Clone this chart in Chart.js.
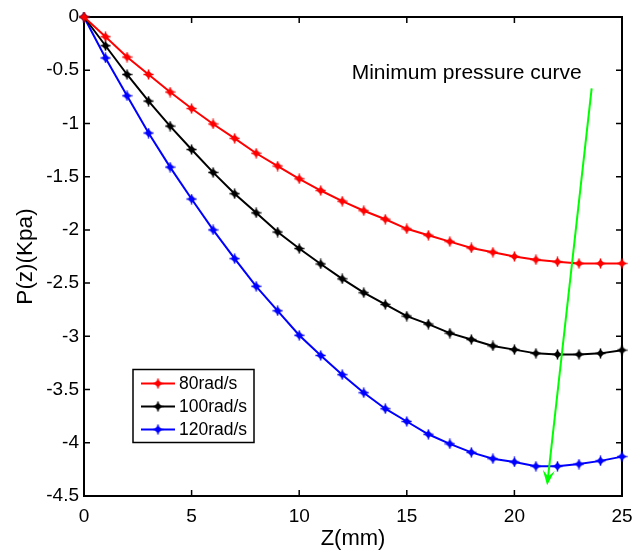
<!DOCTYPE html>
<html>
<head>
<meta charset="utf-8">
<script src="https://cdn.jsdelivr.net/npm/chart.js@4/dist/chart.umd.min.js"></script>
<style>
  html, body { margin: 0; padding: 0; background: #fff; }
  #wrap { width: 642px; height: 552px; }
</style>
</head>
<body>
<div id="wrap"><canvas id="c" width="642" height="552"></canvas></div>
<script>
// ---- data ----
const zValues = [0,1,2,3,4,5,6,7,8,9,10,11,12,13,14,15,16,17,18,19,20,21,22,23,24,25];
const p80  = [0,-0.185,-0.376,-0.54,-0.705,-0.86,-1.005,-1.14,-1.28,-1.40,-1.52,-1.63,-1.73,-1.82,-1.90,-1.99,-2.05,-2.11,-2.17,-2.21,-2.25,-2.28,-2.30,-2.315,-2.315,-2.315];
const p100 = [0,-0.27,-0.54,-0.79,-1.025,-1.245,-1.46,-1.66,-1.84,-2.02,-2.175,-2.32,-2.46,-2.59,-2.70,-2.81,-2.885,-2.97,-3.03,-3.09,-3.125,-3.16,-3.17,-3.17,-3.16,-3.13];
const p120 = [0,-0.385,-0.74,-1.09,-1.41,-1.71,-2.00,-2.27,-2.53,-2.76,-2.99,-3.18,-3.36,-3.53,-3.68,-3.80,-3.92,-4.01,-4.09,-4.15,-4.18,-4.22,-4.22,-4.20,-4.17,-4.13];
const seriesLabels = ['80rad/s','100rad/s','120rad/s'];
const xTicks = [0,5,10,15,20,25];
const yTicks = [0,-0.5,-1,-1.5,-2,-2.5,-3,-3.5,-4,-4.5];
const arrowFrom = [23.59, -0.67];
const arrowTo = [21.52, -4.40];
const noteText = 'Minimum pressure curve';
const noteAt = [12.44, -0.53];

const FONT = "'Liberation Sans', Arial, Helvetica, sans-serif";
const colors = ['#ff0000', '#000000', '#0000ff'];

function makeMarker(color) {
  const c = document.createElement('canvas');
  c.width = 11; c.height = 11;
  const g = c.getContext('2d');
  g.fillStyle = color; g.strokeStyle = color;
  g.beginPath();
  g.moveTo(5.5, 1.5); g.lineTo(9.5, 5.5); g.lineTo(5.5, 9.5); g.lineTo(1.5, 5.5);
  g.closePath(); g.fill();
  g.lineWidth = 1.5;
  g.beginPath();
  g.moveTo(5.5, 0.5); g.lineTo(5.5, 10.5);
  g.moveTo(0.5, 5.5); g.lineTo(10.5, 5.5);
  g.stroke();
  return c;
}
const markers = colors.map(makeMarker);

function toPts(arr) { return zValues.map((z, i) => ({x: z, y: arr[i]})); }
const allSeries = [p80, p100, p120];

const boxPlugin = {
  id: 'box',
  beforeDatasetsDraw(chart) {
    const {ctx, chartArea: a, scales: {x, y}} = chart;
    ctx.save();
    ctx.strokeStyle = '#000';
    ctx.lineWidth = 2;
    ctx.strokeRect(a.left, a.top, a.right - a.left, a.bottom - a.top);
    ctx.lineWidth = 1.5;
    const tl = 6;
    ctx.beginPath();
    xTicks.forEach(v => {
      const px = x.getPixelForValue(v);
      ctx.moveTo(px, a.bottom); ctx.lineTo(px, a.bottom - tl);
      ctx.moveTo(px, a.top); ctx.lineTo(px, a.top + tl);
    });
    yTicks.forEach(v => {
      const py = y.getPixelForValue(v);
      ctx.moveTo(a.left, py); ctx.lineTo(a.left + tl, py);
      ctx.moveTo(a.right, py); ctx.lineTo(a.right - tl, py);
    });
    ctx.stroke();
    ctx.restore();
  },
  afterDatasetsDraw(chart) {
    const {ctx, scales: {x, y}} = chart;
    ctx.save();
    // annotation text
    ctx.fillStyle = '#000';
    ctx.font = '21px ' + FONT;
    ctx.textBaseline = 'middle';
    ctx.textAlign = 'left';
    ctx.fillText(noteText, x.getPixelForValue(noteAt[0]), y.getPixelForValue(noteAt[1]));
    // arrow
    const x0 = x.getPixelForValue(arrowFrom[0]), y0 = y.getPixelForValue(arrowFrom[1]);
    const x1 = x.getPixelForValue(arrowTo[0]), y1 = y.getPixelForValue(arrowTo[1]);
    const len = Math.hypot(x1 - x0, y1 - y0);
    const dx = (x1 - x0) / len, dy = (y1 - y0) / len;
    const px = -dy, py = dx;
    ctx.strokeStyle = '#00ff00';
    ctx.fillStyle = '#00ff00';
    ctx.lineWidth = 2;
    ctx.beginPath();
    ctx.moveTo(x0, y0); ctx.lineTo(x1 - dx * 6, y1 - dy * 6);
    ctx.stroke();
    ctx.beginPath();
    ctx.moveTo(x1, y1);
    ctx.lineTo(x1 - dx * 15 + px * 6, y1 - dy * 15 + py * 6);
    ctx.lineTo(x1 - dx * 9, y1 - dy * 9);
    ctx.lineTo(x1 - dx * 15 - px * 6, y1 - dy * 15 - py * 6);
    ctx.closePath();
    ctx.fill();
    // legend
    const L = 133, T = 369.5, W = 121, H = 73;
    ctx.fillStyle = '#fff';
    ctx.fillRect(L, T, W, H);
    ctx.strokeStyle = '#000';
    ctx.lineWidth = 1.5;
    ctx.strokeRect(L, T, W, H);
    ctx.font = '17.5px ' + FONT;
    ctx.textAlign = 'left';
    ctx.textBaseline = 'middle';
    chart.data.datasets.forEach((ds, i) => {
      const yy = T + 14 + i * 23;
      ctx.strokeStyle = ds.borderColor;
      ctx.lineWidth = 2;
      ctx.beginPath();
      ctx.moveTo(L + 8, yy); ctx.lineTo(L + 42, yy);
      ctx.stroke();
      ctx.drawImage(markers[i], L + 25 - 5.5, yy - 5.5);
      ctx.fillStyle = '#000';
      ctx.fillText(ds.label, L + 46, yy + 1);
    });
    ctx.restore();
  }
};

new Chart(document.getElementById('c'), {
  type: 'line',
  data: {
    datasets: allSeries.map((s, i) => ({
      label: seriesLabels[i],
      data: toPts(s),
      borderColor: colors[i],
      backgroundColor: colors[i],
      borderWidth: 2,
      pointStyle: markers[i],
      pointRadius: 5,
      tension: 0,
      clip: false
    }))
  },
  options: {
    responsive: false,
    animation: false,
    devicePixelRatio: 1,
    layout: { padding: { top: 17, right: 20, left: 0, bottom: 0 } },
    plugins: { legend: { display: false }, tooltip: { enabled: false } },
    scales: {
      x: {
        type: 'linear', min: 0, max: 25,
        afterBuildTicks: s => { s.ticks = xTicks.map(v => ({value: v})); },
        afterFit: s => { s.height = 56; },
        grid: { display: false, drawTicks: false },
        border: { display: false },
        ticks: { color: '#000', font: { family: FONT, size: 19 }, padding: 9, maxRotation: 0,
                 callback: v => String(v) },
        title: { display: true, text: 'Z(mm)', color: '#000',
                 font: { family: FONT, size: 22, lineHeight: 1 }, padding: { top: 0, bottom: 2 } }
      },
      y: {
        type: 'linear', min: -4.5, max: 0,
        afterBuildTicks: s => { s.ticks = yTicks.map(v => ({value: v})); },
        afterFit: s => { s.width = 84; },
        grid: { display: false, drawTicks: false },
        border: { display: false },
        ticks: { color: '#000', font: { family: FONT, size: 19 }, padding: 5,
                 callback: v => String(v) },
        title: { display: true, text: 'P(z)(Kpa)', color: '#000',
                 font: { family: FONT, size: 22.5, lineHeight: 1 }, padding: { top: 15, bottom: 0 } }
      }
    }
  },
  plugins: [boxPlugin]
});
</script>
</body>
</html>
